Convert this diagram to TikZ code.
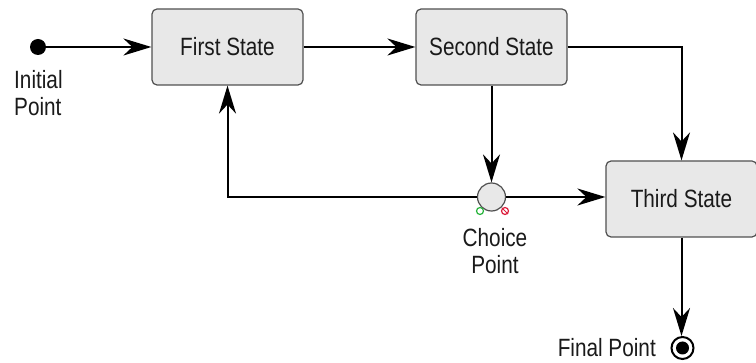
\documentclass[tikz,border=0pt]{standalone}
\usepackage{fontspec}
\setmainfont{Liberation Sans}[FakeStretch=0.83]
\usetikzlibrary{arrows.meta,positioning}
\definecolor{boxfill}{HTML}{E8E8E8}
\definecolor{boxline}{HTML}{505050}
\definecolor{txt}{HTML}{1A1A1A}
\definecolor{okgreen}{RGB}{40,180,60}
\definecolor{nored}{RGB}{220,30,60}
\begin{document}
\begin{tikzpicture}[x=1pt,y=-1pt,
  font=\fontsize{25}{27}\selectfont, text=txt,
  statebox/.style={draw=boxline, line width=1.2pt, fill=boxfill, rounded corners=5pt,
    minimum width=151pt, minimum height=76pt, inner sep=0pt},
  conn/.style={line width=2pt, black},
  arr/.style={conn, -{Stealth[length=28pt,width=17pt,inset=9pt]}},
  lbl/.style={inner sep=0pt, align=center},
  markc/.style={circle, line width=1.2pt, fill=white, minimum size=7pt, inner sep=0pt}
]
\useasboundingbox (0,0) rectangle (756,363);
\node[statebox] (first) at (227.5,47) {First State};
\node[statebox] (second) at (491.5,47) {Second State};
\node[statebox] (third) at (681.5,199) {Third State};
\node[circle, fill=black, minimum size=16pt, inner sep=0pt] (init) at (38,47) {};
\node[circle, draw=boxline, line width=1.2pt, fill=boxfill, minimum size=28pt, inner sep=0pt] (choice) at (491.5,197) {};
\node[circle, draw=black, line width=2pt, fill=white, minimum size=22pt, inner sep=0pt] (final) at (682.5,348) {};
\node[circle, fill=black, minimum size=13pt, inner sep=0pt] (finalin) at (682.5,348) {};
\node[markc, draw=okgreen] (okmark) at (480,211) {};
\node[markc, draw=nored] (nomark) at (505,211) {};
\draw[nored, line width=1pt] (nomark.north west) -- (nomark.south east);
\node[lbl, align=left, anchor=west] (initlbl) at (14,93.5) {Initial\\Point};
\node[lbl] (choicelbl) at (495,251) {Choice\\Point};
\node[lbl, anchor=east] (finallbl) at (656,348) {Final Point};
\draw[arr] (init) -- (first.west);
\draw[arr] (first.east) -- (second.west);
\draw[arr] (second.east) -| (third.north);
\draw[arr] (second.south) -- (choice.north);
\draw[arr] (choice.west) -| (first.south);
\draw[arr] (choice.east) -- (choice.east -| third.west);
\draw[arr] (third.south) -- (third.south |- final.north);
\end{tikzpicture}
\end{document}
